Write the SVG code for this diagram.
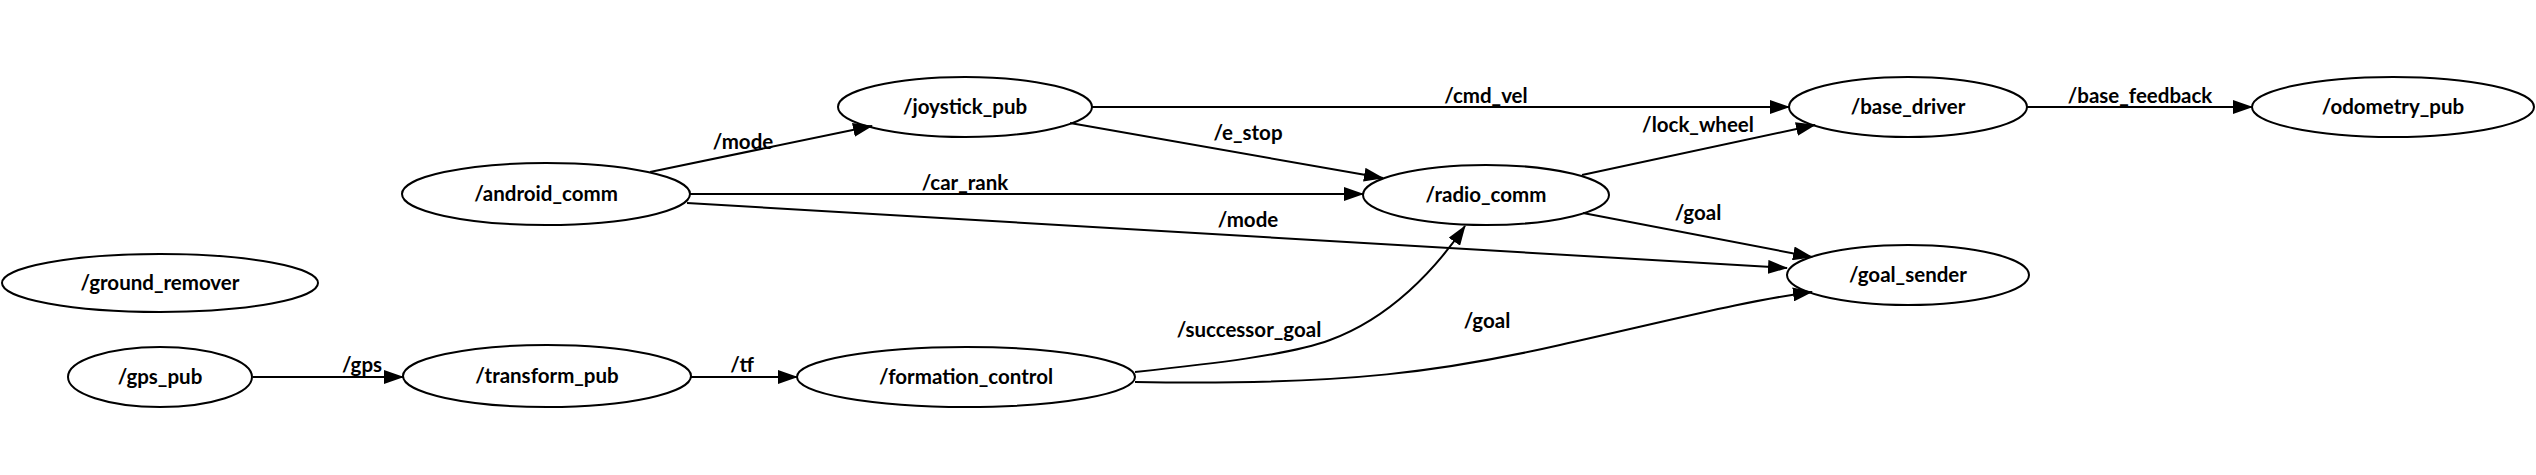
<svg xmlns="http://www.w3.org/2000/svg" width="2536" height="475" viewBox="0 0 2536 475">
<style>
.n ellipse{fill:none;stroke:#000;stroke-width:2}
.n text,.l{font-family:Lato,"Liberation Sans",sans-serif;font-weight:bold;font-size:20.5px;text-anchor:middle;fill:#000}
.e path{fill:none;stroke:#000;stroke-width:2;marker-end:url(#arr)}
</style>
<defs>
<marker id="arr" markerUnits="userSpaceOnUse" markerWidth="20" markerHeight="14" viewBox="0 0 20 14" refX="19" refY="7" orient="auto">
<path d="M0,0 L20,7 L0,14 z" fill="#000"/>
</marker>
</defs>
<rect width="2536" height="475" fill="#fff"/>
<g id="edges" class="e">
<path d="M650,172 L872,126"/>
<path d="M1092,107 L1789,107"/>
<path d="M1070,123 L1383,178"/>
<path d="M690,194 L1363,194"/>
<path d="M687,203 L1787,268"/>
<path d="M1582,175 L1815,125"/>
<path d="M1583,213 L1812,257"/>
<path d="M1135,372 C1210,364 1290,355 1330,340 C1390,318 1435,270 1465,226"/>
<path d="M1135,382 C1350,386 1450,370 1560,345 C1680,318 1750,300 1812,292"/>
<path d="M253,377 L403,377"/>
<path d="M691,377 L797,377"/>
<path d="M2027,107 L2252,107"/>
<text class="l" x="743" y="149">/mode</text>
<text class="l" x="1486" y="103">/cmd_vel</text>
<text class="l" x="1248" y="140">/e_stop</text>
<text class="l" x="965" y="190">/car_rank</text>
<text class="l" x="1248" y="227">/mode</text>
<text class="l" x="1698" y="132">/lock_wheel</text>
<text class="l" x="1698" y="220">/goal</text>
<text class="l" x="1249" y="337">/successor_goal</text>
<text class="l" x="1487" y="328">/goal</text>
<text class="l" x="362" y="372">/gps</text>
<text class="l" x="742" y="372">/tf</text>
<text class="l" x="2140" y="103">/base_feedback</text>
</g>
<g id="joystick_pub" class="n"><ellipse cx="965" cy="107" rx="127" ry="30"/><text x="965" y="114">/joystick_pub</text></g>
<g id="android_comm" class="n"><ellipse cx="546" cy="194" rx="144" ry="31"/><text x="546" y="201">/android_comm</text></g>
<g id="ground_remover" class="n"><ellipse cx="160" cy="283" rx="158" ry="29"/><text x="160" y="290">/ground_remover</text></g>
<g id="gps_pub" class="n"><ellipse cx="160" cy="377" rx="92" ry="30"/><text x="160" y="384">/gps_pub</text></g>
<g id="transform_pub" class="n"><ellipse cx="547" cy="376" rx="144" ry="31"/><text x="547" y="383">/transform_pub</text></g>
<g id="formation_control" class="n"><ellipse cx="966" cy="377" rx="169" ry="30"/><text x="966" y="384">/formation_control</text></g>
<g id="radio_comm" class="n"><ellipse cx="1486" cy="195" rx="123" ry="30"/><text x="1486" y="202">/radio_comm</text></g>
<g id="base_driver" class="n"><ellipse cx="1908" cy="107" rx="119" ry="30"/><text x="1908" y="114">/base_driver</text></g>
<g id="odometry_pub" class="n"><ellipse cx="2393" cy="107" rx="141" ry="30"/><text x="2393" y="114">/odometry_pub</text></g>
<g id="goal_sender" class="n"><ellipse cx="1908" cy="275" rx="121" ry="30"/><text x="1908" y="282">/goal_sender</text></g>
</svg>
